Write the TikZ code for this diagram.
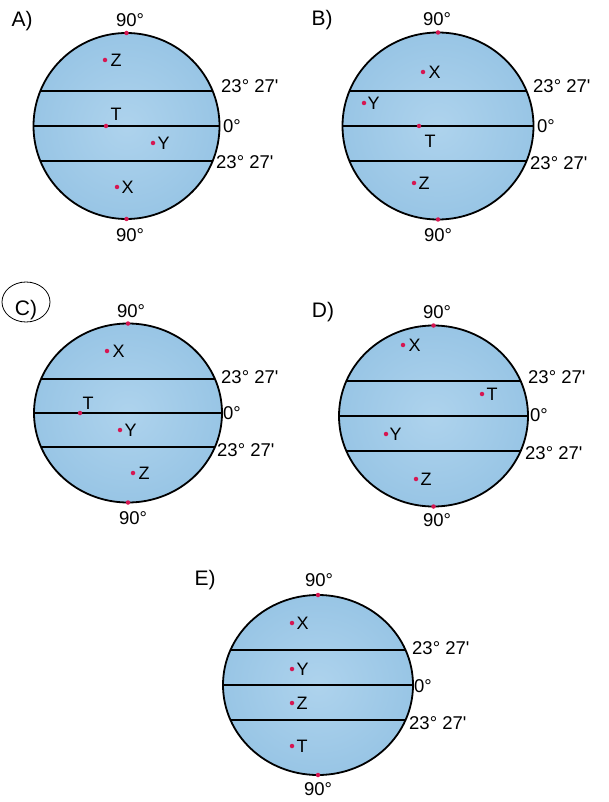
\documentclass[tikz,border=0pt]{standalone}
\usepackage{fontspec}
\setmainfont{Liberation Sans}
\definecolor{gl}{RGB}{174,211,237}
\definecolor{gd}{RGB}{152,197,229}
\definecolor{dotc}{RGB}{214,22,82}
\tikzset{
  rim/.style={draw=black, line width=1.8pt},
  latline/.style={draw=black, line width=2pt},
  dotn/.style={circle, fill=dotc, inner sep=0pt, minimum size=4.5pt},
  lbl/.style={inner sep=0pt, font=\fontsize{18}{18}\selectfont},
  deg/.style={inner sep=0pt, font=\fontsize{18.5}{19}\selectfont},
  opt/.style={inner sep=0pt, font=\fontsize{21}{22}\selectfont},
}
% #1 name, #2 cx, #3 cy (equator), #4 rx, #5 ry, #6 tropic offset
\newcommand\drawglobe[6]{%
  \begin{scope}[shift={(#2,#3)}]
    \shade[inner color=gl, outer color=gd] (0,0) ellipse [x radius=#4, y radius=#5];
    \begin{scope}
      \clip (0,0) ellipse [x radius=#4, y radius=#5];
      \draw[latline] (-#4-2,-#6) -- (#4+2,-#6);
      \draw[latline] (-#4-2,0) -- (#4+2,0);
      \draw[latline] (-#4-2,#6) -- (#4+2,#6);
    \end{scope}
    \draw[rim] (0,0) ellipse [x radius=#4, y radius=#5];
    \node[dotn] (#1N) at (0,-#5) {};
    \node[dotn] (#1S) at (0,#5) {};
  \end{scope}}
\begin{document}
\begin{tikzpicture}[x=1pt,y=-1pt]
\useasboundingbox (0,0) rectangle (608,802);

% ---------- A ----------
\drawglobe{a}{126.5}{126}{93}{93}{35}
\node[opt] (aopt) at (22,21) {A)};
\node[deg] (aN90) at (130,20) {90°};
\node[deg] (aS90) at (130,235) {90°};
\node[deg, anchor=west] (at1) at (221,86) {23° 27\textquotesingle};
\node[deg, anchor=west] (a0) at (223,126) {0°};
\node[deg, anchor=west] (at2) at (216,162) {23° 27\textquotesingle};
\node[dotn] (aZ) at (105,60) {};
\node[lbl, right=3pt] (aZt) at (aZ.east) {Z};
\node[dotn] (aT) at (106,126) {};
\node[lbl] (aTt) at (116,114) {T};
\node[dotn] (aY) at (153,143) {};
\node[lbl, right=2pt] (aYt) at (aY.east) {Y};
\node[dotn] (aX) at (117,187) {};
\node[lbl, right=2pt] (aXt) at (aX.east) {X};

% ---------- B ----------
\drawglobe{b}{438}{126}{95.5}{93.5}{35}
\node[opt] (bopt) at (322,20) {B)};
\node[deg] (bN90) at (437,19) {90°};
\node[deg] (bS90) at (438,235) {90°};
\node[deg, anchor=west] (bt1) at (533,86) {23° 27\textquotesingle};
\node[deg, anchor=west] (b0) at (537,126) {0°};
\node[deg, anchor=west] (bt2) at (530,163) {23° 27\textquotesingle};
\node[dotn] (bX) at (423,72) {};
\node[lbl, right=3pt] (bXt) at (bX.east) {X};
\node[dotn] (bY) at (364,103) {};
\node[lbl, right=1pt] (bYt) at (bY.east) {Y};
\node[dotn] (bT) at (419,126) {};
\node[lbl] (bTt) at (430,141) {T};
\node[dotn] (bZ) at (414,183) {};
\node[lbl, right=2pt] (bZt) at (bZ.east) {Z};

% ---------- C ----------
\drawglobe{c}{128}{413}{94}{89.5}{34}
\draw[line width=0.8pt] (26,302) ellipse [x radius=24, y radius=20];
\node[opt] (copt) at (26,310) {C)};
\node[deg] (cN90) at (131,311) {90°};
\node[deg] (cS90) at (133,518) {90°};
\node[deg, anchor=west] (ct1) at (221,377) {23° 27\textquotesingle};
\node[deg, anchor=west] (c0) at (223,413) {0°};
\node[deg, anchor=west] (ct2) at (217,450) {23° 27\textquotesingle};
\node[dotn] (cX) at (107,351) {};
\node[lbl, right=3pt] (cXt) at (cX.east) {X};
\node[dotn] (cT) at (80,413) {};
\node[lbl] (cTt) at (88,403) {T};
\node[dotn] (cY) at (120,430) {};
\node[lbl, right=2pt] (cYt) at (cY.east) {Y};
\node[dotn] (cZ) at (133,473) {};
\node[lbl, right=3pt] (cZt) at (cZ.east) {Z};

% ---------- D ----------
\drawglobe{d}{433.5}{416}{94.5}{90.5}{35}
\node[opt] (dopt) at (323,312) {D)};
\node[deg] (dN90) at (437,312) {90°};
\node[deg] (dS90) at (437,520) {90°};
\node[deg, anchor=west] (dt1) at (528,377) {23° 27\textquotesingle};
\node[deg, anchor=west] (d0) at (530,415) {0°};
\node[deg, anchor=west] (dt2) at (525,453) {23° 27\textquotesingle};
\node[dotn] (dX) at (403,345) {};
\node[lbl, right=3pt] (dXt) at (dX.east) {X};
\node[dotn] (dT) at (482,394) {};
\node[lbl, right=2pt] (dTt) at (dT.east) {T};
\node[dotn] (dY) at (386,434) {};
\node[lbl, right=1pt] (dYt) at (dY.east) {Y};
\node[dotn] (dZ) at (416,479) {};
\node[lbl, right=2pt] (dZt) at (dZ.east) {Z};

% ---------- E ----------
\drawglobe{e}{318}{685}{95}{90}{35}
\node[opt] (eopt) at (205,580) {E)};
\node[deg] (eN90) at (319,580) {90°};
\node[deg] (eS90) at (318,789) {90°};
\node[deg, anchor=west] (et1) at (412,648) {23° 27\textquotesingle};
\node[deg, anchor=west] (e0) at (414,686) {0°};
\node[deg, anchor=west] (et2) at (409,723) {23° 27\textquotesingle};
\node[dotn] (eX) at (292,623) {};
\node[lbl, right=2pt] (eXt) at (eX.east) {X};
\node[dotn] (eY) at (292,669) {};
\node[lbl, right=2pt] (eYt) at (eY.east) {Y};
\node[dotn] (eZ) at (292,703) {};
\node[lbl, right=2pt] (eZt) at (eZ.east) {Z};
\node[dotn] (eT) at (292,746) {};
\node[lbl, right=2pt] (eTt) at (eT.east) {T};
\end{tikzpicture}
\end{document}
